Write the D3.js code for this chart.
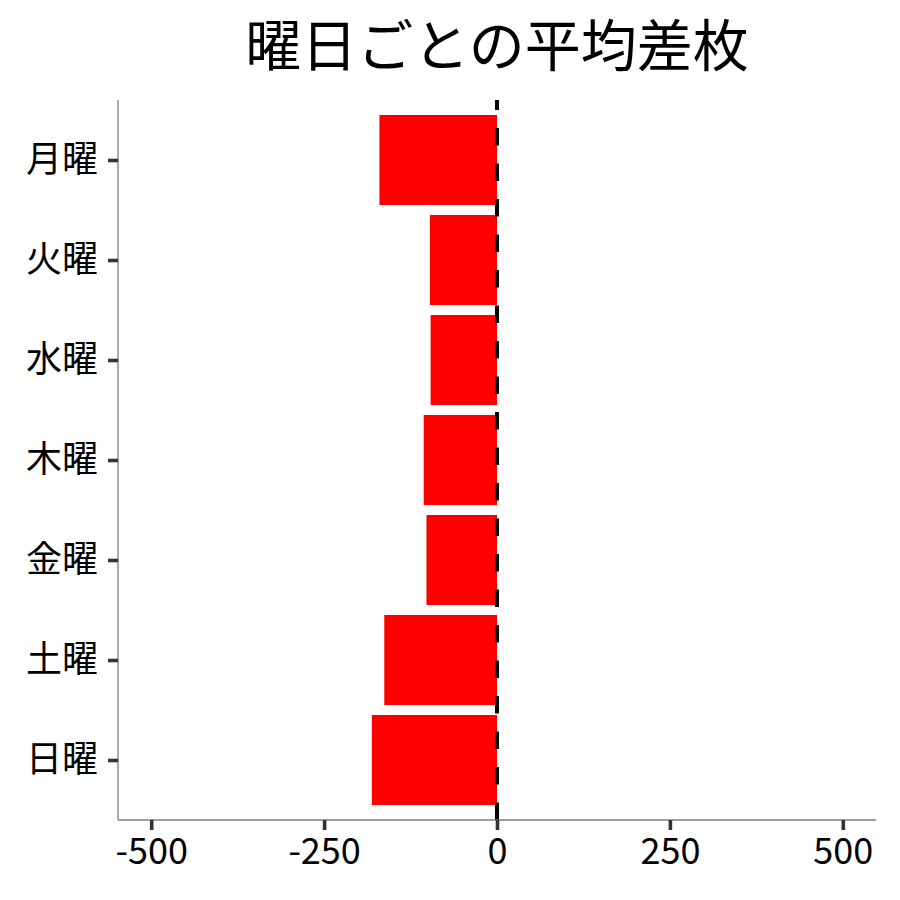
<!DOCTYPE html>
<html>
<head>
<meta charset="utf-8">
<script src="https://cdn.jsdelivr.net/npm/d3@7"></script>
<style>
  body { margin: 0; background: #fff; }
  text { font-family: "Noto Sans CJK JP", "Noto Sans", sans-serif; fill: #000; }
</style>
</head>
<body>
<svg id="chart" width="900" height="900"></svg>
<script>
const days = ["月曜", "火曜", "水曜", "木曜", "金曜", "土曜", "日曜"];
const avgDiff = [-170, -97, -96, -106, -102, -163, -181];
const xTicks = [-500, -250, 0, 250, 500];
const title = "曜日ごとの平均差枚";

const svg = d3.select("#chart");

const panel = { left: 118, right: 876, top: 100, bottom: 820 };

const x = d3.scaleLinear().domain([-548, 548]).range([panel.left, panel.right]);

// discrete axis with 0.6 band of room on both ends
const y = d3.scalePoint().domain(days).range([panel.top + 60, panel.bottom - 60]);
const barH = 90;

svg.append("text")
  .attr("x", (panel.left + panel.right) / 2)
  .attr("y", 66)
  .attr("text-anchor", "middle")
  .style("font-size", "56px")
  .text(title);

// bars
svg.selectAll(".bar")
  .data(days)
  .enter()
  .append("rect")
  .attr("class", "bar")
  .attr("x", (d, i) => Math.min(x(avgDiff[i]), x(0)))
  .attr("y", d => y(d) - barH / 2)
  .attr("width", (d, i) => Math.abs(x(avgDiff[i]) - x(0)))
  .attr("height", barH)
  .attr("fill", "#ff0000");

// zero line
svg.append("line")
  .attr("x1", x(0)).attr("x2", x(0))
  .attr("y1", panel.bottom).attr("y2", panel.top)
  .attr("stroke", "#000")
  .attr("stroke-width", 4)
  .attr("stroke-dasharray", "17.5,18");

// axes
const xAxis = svg.append("g")
  .attr("transform", `translate(0,${panel.bottom})`)
  .call(d3.axisBottom(x).tickValues(xTicks).tickSize(10).tickPadding(8).tickFormat(d3.format("d")));

const yAxis = svg.append("g")
  .attr("transform", `translate(${panel.left},0)`)
  .call(d3.axisLeft(y).tickSize(10).tickPadding(10));

[xAxis, yAxis].forEach(a => {
  a.select(".domain").attr("stroke", "#7f7f7f").attr("stroke-width", 1.3);
  a.selectAll(".tick line").attr("stroke", "#333333").attr("stroke-width", 3.6);
  a.selectAll(".tick text").style("font-size", "36px").attr("fill", "#000");
});
yAxis.select(".domain").attr("d", `M0,${panel.top}V${panel.bottom}`);
xAxis.select(".domain").attr("d", `M${panel.left},0H${panel.right}`);
xAxis.selectAll(".tick text").text(d => d < 0 ? "-" + Math.abs(d) : d);
</script>
</body>
</html>
